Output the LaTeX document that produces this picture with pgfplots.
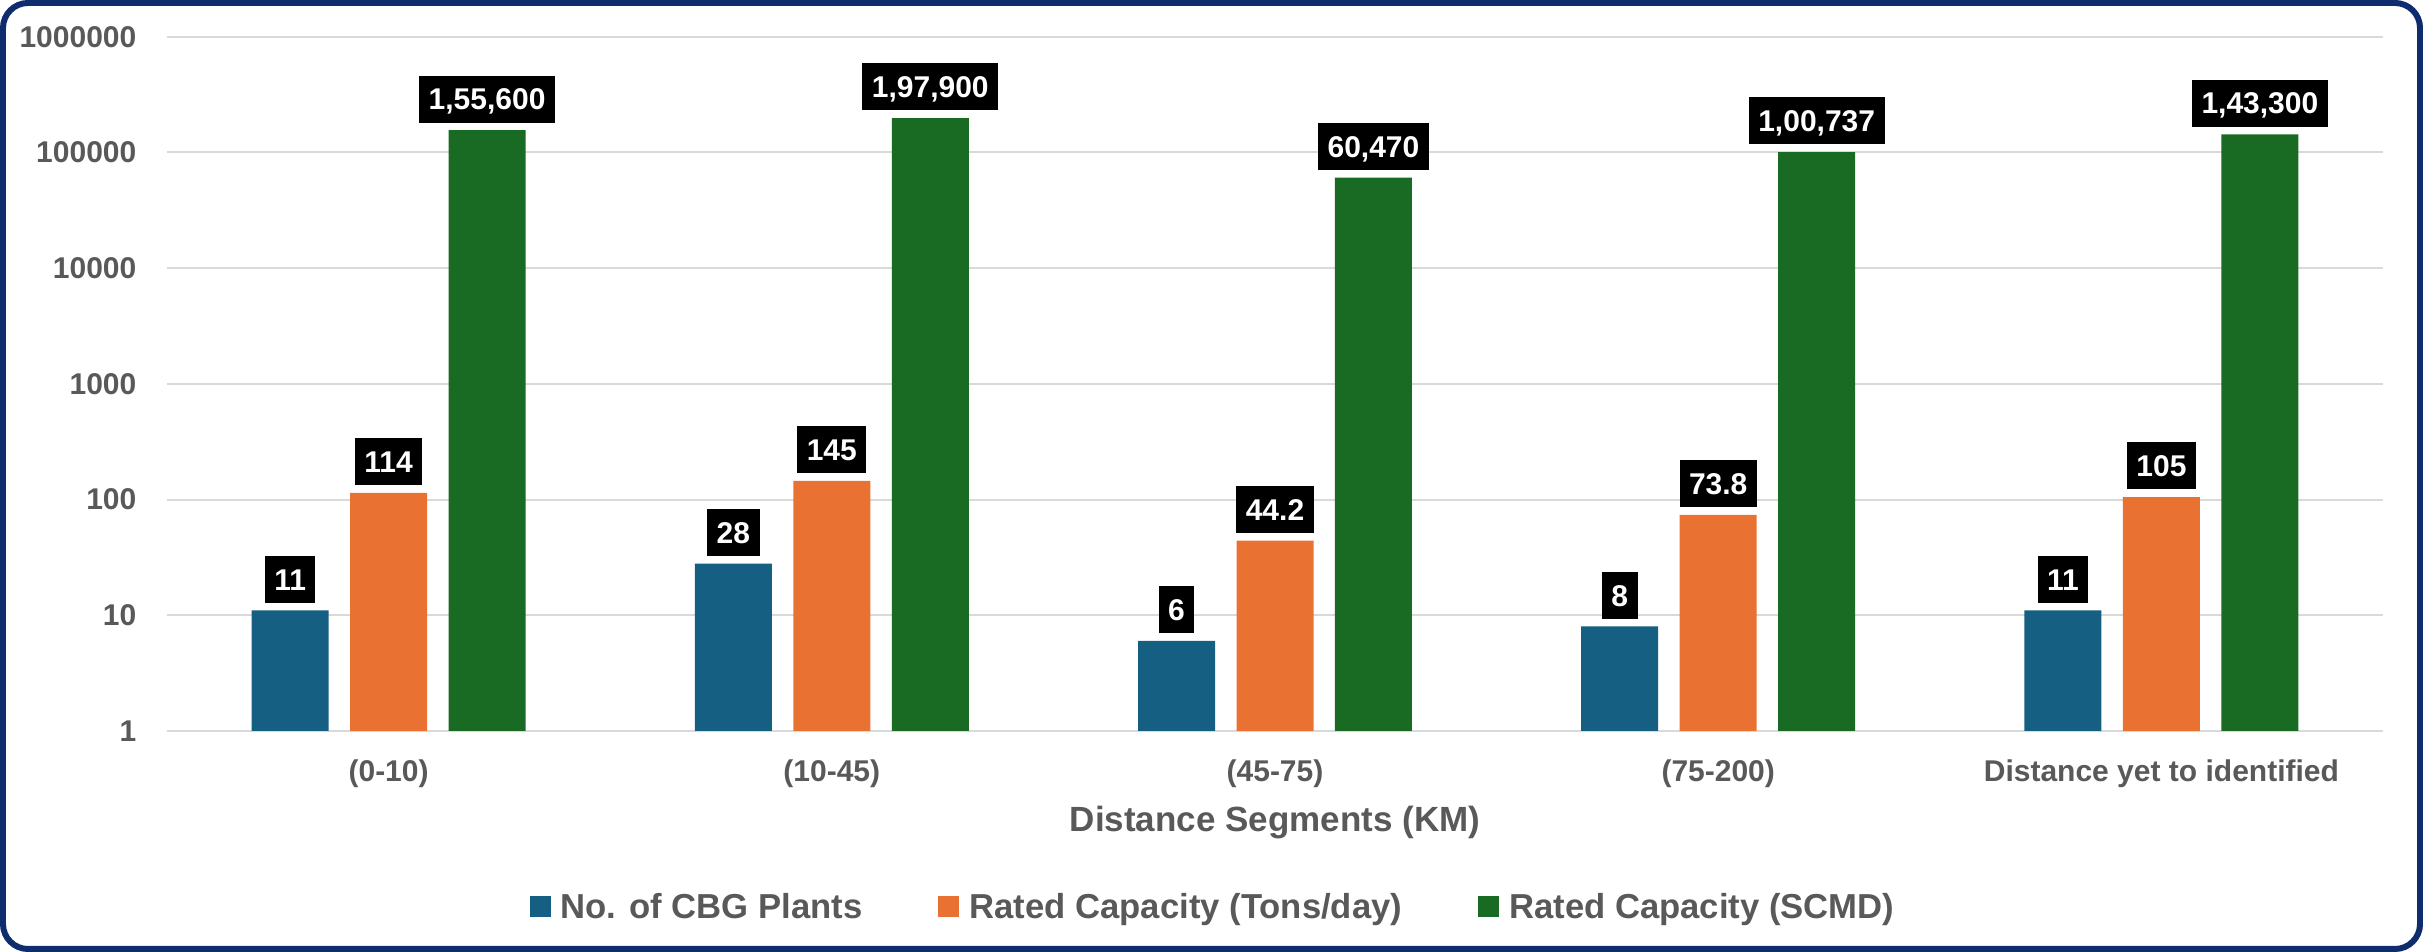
\documentclass[border=0pt]{standalone}
\usepackage{pgfplots}
\usepackage{pgfplotstable}
\pgfplotsset{compat=1.18}
\usepackage{fontspec}
\setmainfont{Liberation Sans}
\definecolor{cblue}{HTML}{156082}
\definecolor{corange}{HTML}{E97132}
\definecolor{cgreen}{HTML}{196B24}
\definecolor{navy}{HTML}{0E2C6E}
\definecolor{labelgray}{HTML}{595959}
\definecolor{gridgray}{HTML}{D9D9D9}
\pgfplotstableread{
x plants tons scmd lp lt ls
0 11 114 155600 11 114 1,55,600
1 28 145 197900 28 145 1,97,900
2 6 44.2 60470 6 44.2 60,470
3 8 73.8 100737 8 73.8 1,00,737
4 11 105 143300 11 105 1,43,300
}\datatable
\begin{document}
\begin{tikzpicture}
\useasboundingbox (-50.1pt,-66.3pt) rectangle (676.8pt,219.3pt);
\begin{axis}[
  at={(0pt,0pt)}, anchor=south west,
  scale only axis, width=664.8pt, height=208.3pt,
  ymode=log, log basis y=10, ymin=1, ymax=1000000,
  xmin=-0.5, xmax=4.5,
  xtick={0,1,2,3,4},
  xticklabels={(0-10),(10-45),(45-75),(75-200),Distance yet to identified},
  ytick={1,10,100,1000,10000,100000,1000000},
  yticklabels={1,10,100,1000,10000,100000,1000000},
  major tick length=0pt, minor tick length=0pt,
  axis line style={draw=none},
  ymajorgrids, major grid style={draw=gridgray, line width=0.6pt},
  clip=false,
  ybar, bar width=0.1737,
  xticklabel style={font=\fontsize{9}{10}\selectfont\bfseries, text=labelgray, anchor=base, yshift=-15.2pt},
  yticklabel style={font=\fontsize{9}{10}\selectfont\bfseries, text=labelgray, anchor=east, inner xsep=0pt, xshift=-9pt},
  xlabel={Distance Segments (KM)},
  xlabel style={font=\fontsize{10.5}{12}\selectfont\bfseries, text=labelgray, at={(axis description cs:0.5,0)}, anchor=base, yshift=-30.2pt},
  point meta=explicit symbolic,
  nodes near coords={\pgfplotspointmeta},
  every node near coord/.append style={fill=black, text=white, font=\fontsize{9}{10}\selectfont\bfseries, anchor=south, yshift=2.1pt, inner xsep=2.85pt, inner ysep=3.8pt, text height=6.5pt, text depth=0pt, minimum height=14.1pt},
  legend columns=3,
  legend style={at={(axis description cs:0.4716,0)}, anchor=center, yshift=-53.3pt, draw=none, fill=none, font=\fontsize{10.4}{12}\selectfont\bfseries, text=labelgray, inner sep=0pt, nodes={inner sep=0pt}},
  /tikz/every odd column/.append style={column sep=3pt},
  /tikz/every even column/.append style={column sep=22.8pt},
]
\addplot[fill=cblue, draw=none, bar shift=-0.2222,
  legend image code/.code={\fill[cblue] (0pt,-2.5pt) rectangle (6.3pt,3.8pt);}]
  table[x=x, y=plants, meta=lp] {\datatable};
\addlegendentry{No. of CBG Plants}
\addplot[fill=corange, draw=none, bar shift=0,
  legend image code/.code={\fill[corange] (0pt,-2.5pt) rectangle (6.3pt,3.8pt);}]
  table[x=x, y=tons, meta=lt] {\datatable};
\addlegendentry{Rated Capacity (Tons/day)}
\addplot[fill=cgreen, draw=none, bar shift=0.2222,
  legend image code/.code={\fill[cgreen] (0pt,-2.5pt) rectangle (6.3pt,3.8pt);}]
  table[x=x, y=scmd, meta=ls] {\datatable};
\addlegendentry{Rated Capacity (SCMD)}
\end{axis}
\draw[navy, line width=1.8pt, rounded corners=7.5pt] (-49.2pt,-65.4pt) rectangle (675.9pt,218.4pt);
\end{tikzpicture}
\end{document}
